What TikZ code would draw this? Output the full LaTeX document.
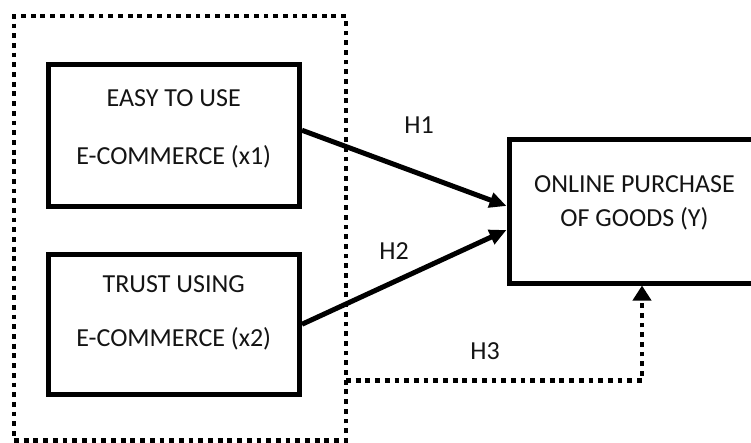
\documentclass[tikz,border=0pt]{standalone}
\usepackage{fontspec}
\setmainfont{Carlito}
\usetikzlibrary{arrows.meta}
\begin{document}
\begin{tikzpicture}[x=1pt,y=-1pt,
  box/.style={draw=black, line width=5pt, rectangle, inner sep=0pt},
  grpbox/.style={draw=black, line width=4.8pt, dash pattern=on 4.8pt off 4.9pt, rectangle, inner sep=0pt, outer sep=0pt},
  txt/.style={font=\fontsize{26}{30}\selectfont, text=black!92, inner sep=0pt},
  link/.style={line width=5pt, -{Triangle[length=17pt,width=15pt]}},
  dlink/.style={line width=4.8pt, dash pattern=on 4.8pt off 4.9pt, -{Triangle[length=15pt,width=18pt]}}
]
\useasboundingbox (0,0) rectangle (751,442);
\node[grpbox, minimum width=332pt, minimum height=424.5pt] (grp) at (180,228.25) {};
\node[box, minimum width=251.5pt, minimum height=142.5pt] (b1) at (173.75,135.25) {};
\node[box, minimum width=251.5pt, minimum height=140.5pt] (b2) at (173.75,324.25) {};
\node[box, minimum width=266pt, minimum height=144pt] (y) at (642,211) {};
\node[txt] (t1a) at (173.75,98) {EASY TO USE};
\node[txt] (t1b) at (173.75,157) {E-COMMERCE (x1)};
\node[txt] (t2a) at (173.75,284.5) {TRUST USING};
\node[txt] (t2b) at (173.75,339) {E-COMMERCE (x2)};
\node[txt] (ya) at (634.5,184.5) {ONLINE PURCHASE};
\node[txt] (yb) at (634.5,218.5) {OF GOODS (Y)};
\node[txt] (h1) at (419,125) {H1};
\node[txt] (h2) at (394,251.5) {H2};
\node[txt] (h3) at (485,351) {H3};
\draw[link] ([yshift=5pt]b1.east) -- ([yshift=5pt]y.west);
\draw[link] (b2.east) -- ([yshift=-19pt]y.west);
\coordinate (h3s) at (346,380.5);
\draw[dlink] (h3s) -| (y.south);
\end{tikzpicture}
\end{document}
